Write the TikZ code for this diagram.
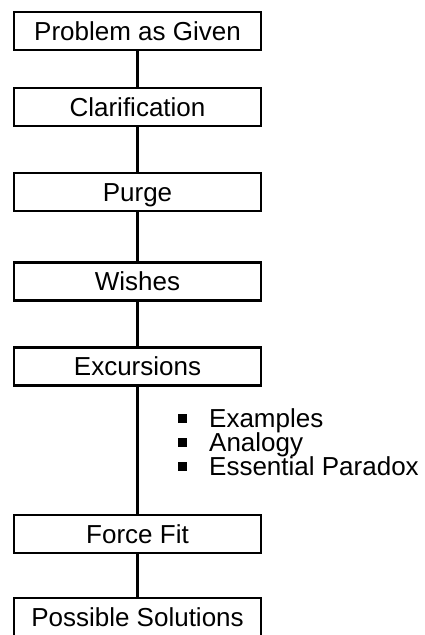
\documentclass[tikz,border=0pt]{standalone}
\usepackage{fontspec}
\setmainfont{Liberation Sans}
\begin{document}
\begin{tikzpicture}[x=1pt,y=-1pt,
  stage/.style={draw, line width=2.1pt, minimum width=247pt, minimum height=38pt,
    inner sep=0pt, text height=18.7pt, text depth=0pt,
    font=\fontsize{26}{30}\selectfont},
  link/.style={line width=2.1pt},
  sqbullet/.style={fill, minimum size=9pt, inner sep=0pt},
  listitem/.style={anchor=base west, inner sep=0pt, font=\fontsize{26}{30}\selectfont}]
\useasboundingbox (0,0) rectangle (424,635);

% stages of the process
\node[stage] (given)   at (137.5,31)    {Problem as Given};
\node[stage] (clarify) at (137.5,107)   {Clarification};
\node[stage] (purge)   at (137.5,192)   {Purge};
\node[stage] (wishes)  at (137.5,281.5) {Wishes};
\node[stage] (excur)   at (137.5,366.5) {Excursions};
\node[stage] (force)   at (137.5,534)   {Force Fit};
\node[stage] (sols)    at (137.5,617)   {Possible Solutions};

% connecting lines
\draw[link] (given.south)   -- (clarify.north);
\draw[link] (clarify.south) -- (purge.north);
\draw[link] (purge.south)   -- (wishes.north);
\draw[link] (wishes.south)  -- (excur.north);
\draw[link] (excur.south)   -- (force.north);
\draw[link] (force.south)   -- (sols.north);

% kinds of excursion
\node[sqbullet] (b1) at (182.5,418) {};
\node[sqbullet] (b2) at (182.5,442) {};
\node[sqbullet] (b3) at (182.5,466.5) {};
\node[listitem] (examples) at (209,427) {Examples};
\node[listitem] (analogy)  at (209,451) {Analogy};
\node[listitem] (paradox)  at (209,475) {Essential Paradox};
\end{tikzpicture}
\end{document}
